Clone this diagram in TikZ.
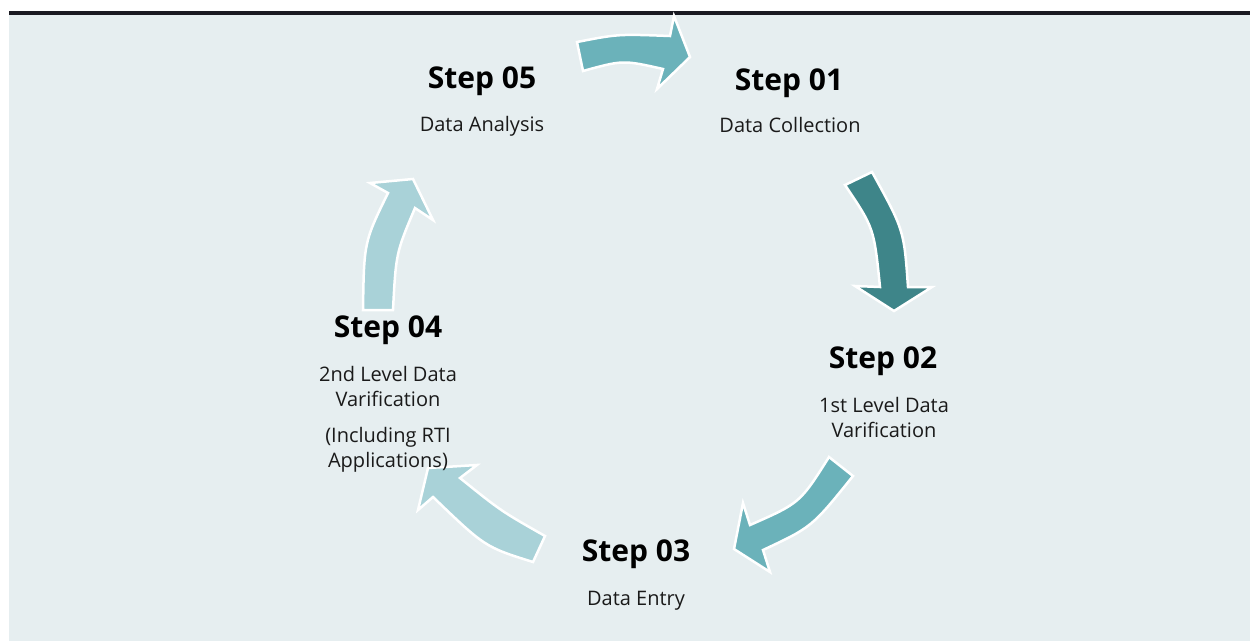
\documentclass[tikz,border=0pt]{standalone}
\usepackage{fontspec}
\setmainfont{Open Sans}
\definecolor{bgc}{HTML}{E6EEF0}
\definecolor{topline}{HTML}{1A1A22}
\definecolor{tealmid}{HTML}{6BB2BA}
\definecolor{tealdark}{HTML}{3E8589}
\definecolor{teallight}{HTML}{A9D2D8}
\definecolor{txt}{HTML}{1A1A1A}
\begin{document}
\begin{tikzpicture}[x=1pt,y=-1pt,
  title/.style={font=\fontsize{30}{36}\selectfont\bfseries, inner sep=0pt, anchor=base, text=black},
  body/.style={font=\fontsize{20}{24}\selectfont, inner sep=0pt, anchor=base, text=txt},
  arrowshape/.style={draw=white, line width=2.5pt, line join=miter, miter limit=10}]
\useasboundingbox (0,0) rectangle (1250,641);
% background and top rule
\fill[bgc] (9,15) rectangle (1250,641);
\fill[topline] (9,11) rectangle (1250,15);

% arrow 1 (top, step 05 -> step 01)
\filldraw[arrowshape, fill=tealmid] (577,42) .. controls (618,34) .. (670,36) -- (674,16) -- (690,57) -- (657,89) -- (663,69) .. controls (623,60) .. (583,71) -- cycle;
% arrow 2 (right, step 01 -> step 02)
\filldraw[arrowshape, fill=tealdark] (845,185) -- (872,172) .. controls (904,230) .. (908,287) -- (932,287) -- (894,311) -- (855,286) -- (880,287) .. controls (874,228) .. (845,185) -- cycle;
% arrow 3 (bottom right, step 02 -> step 03)
\filldraw[arrowshape, fill=tealmid] (829,457) -- (853,476) .. controls (812,527) .. (763,550) -- (770,572) -- (734,549) -- (743,503) -- (750,525) .. controls (800,503) .. (829,457) -- cycle;
% arrow 4 (bottom left, step 03 -> step 04)
\filldraw[arrowshape, fill=teallight] (545,536) -- (533,562) .. controls (485,547) .. (433,497) -- (418,510) -- (428,468) -- (477,465) -- (460,478) .. controls (501,511) .. (545,536) -- cycle;
% arrow 5 (left, step 04 -> step 05)
\filldraw[arrowshape, fill=teallight] (363,310) -- (393,310) .. controls (396,253) .. (415,208) -- (433,220) -- (413,179) -- (370,183) -- (388,193) .. controls (364,242) .. (363,310) -- cycle;

% texts
\node[title] (s5t) at (482,88) {Step 05};
\node[body]  (s5a) at (482,131) {Data Analysis};

\node[title] (s1t) at (789,90) {Step 01};
\node[body]  (s1a) at (790,132) {Data Collection};

\node[title] (s2t) at (883,368) {Step 02};
\node[body]  (s2a) at (884,412) {1st Level Data};
\node[body]  (s2b) at (884,437) {Varification};

\node[title] (s3t) at (636,561) {Step 03};
\node[body]  (s3a) at (636,605) {Data Entry};

\node[title] (s4t) at (388,337) {Step 04};
\node[body]  (s4a) at (388,381) {2nd Level Data};
\node[body]  (s4b) at (388,406) {Varification};
\node[body]  (s4c) at (388,442) {(Including RTI};
\node[body]  (s4d) at (388,467) {Applications)};
\end{tikzpicture}
\end{document}
